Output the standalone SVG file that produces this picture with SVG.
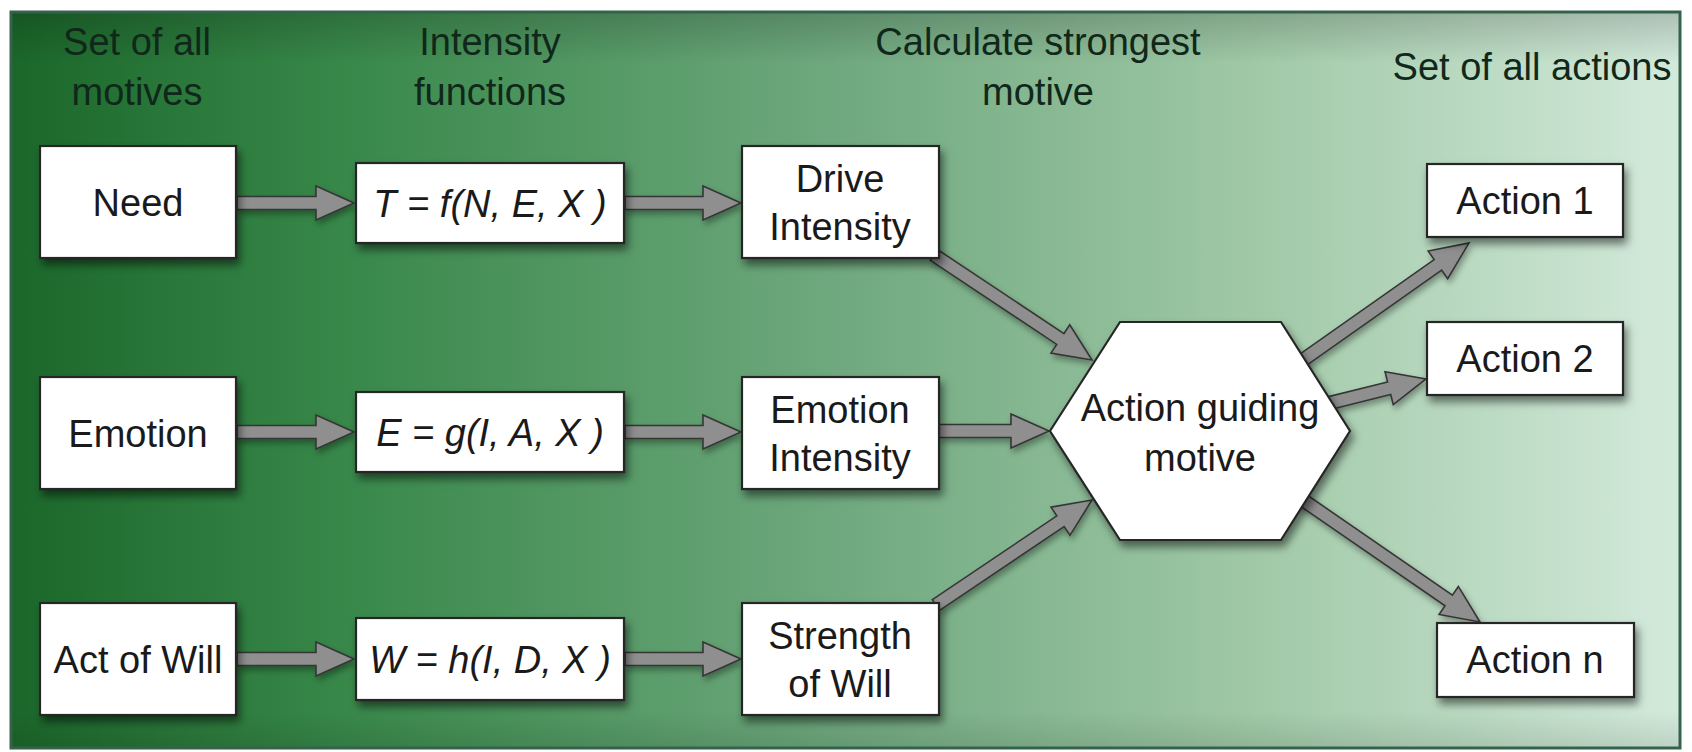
<svg xmlns="http://www.w3.org/2000/svg" width="1692" height="752" viewBox="0 0 1692 752">
<style>
.box{fill:#ffffff;stroke:#262626;stroke-width:2.2;filter:url(#sh)}
.lbl{font-family:"Liberation Sans",Arial,sans-serif;font-size:38px;fill:#1a1a1a;text-anchor:middle}
.fn{font-style:italic}
.hdr{font-family:"Liberation Sans",Arial,sans-serif;font-size:38px;fill:#10281a;text-anchor:middle}
.arr{fill:#8f8f8f;stroke:#363636;stroke-width:1.6;stroke-linejoin:miter;filter:url(#sha)}
</style>
<defs>
<linearGradient id="bg" x1="0" y1="0" x2="1" y2="0">
<stop offset="0" stop-color="#1b672a"/>
<stop offset="0.2" stop-color="#38884a"/>
<stop offset="0.5" stop-color="#70a97f"/>
<stop offset="0.75" stop-color="#a1c9a8"/>
<stop offset="1" stop-color="#d3eadb"/>
</linearGradient>
<linearGradient id="vig" x1="0" y1="0" x2="0" y2="1">
<stop offset="0" stop-color="#000" stop-opacity="0.18"/>
<stop offset="0.07" stop-color="#000" stop-opacity="0"/>
<stop offset="0.95" stop-color="#000" stop-opacity="0"/>
<stop offset="1" stop-color="#000" stop-opacity="0.1"/>
</linearGradient>
<filter id="sh" x="-20%" y="-20%" width="140%" height="150%">
<feDropShadow dx="3" dy="6" stdDeviation="4" flood-color="#000" flood-opacity="0.5"/>
</filter>
<filter id="sha" x="-20%" y="-30%" width="140%" height="160%">
<feDropShadow dx="2" dy="4" stdDeviation="3" flood-color="#000" flood-opacity="0.35"/>
</filter>
</defs>
<rect x="0" y="0" width="1692" height="752" fill="#ffffff"/>
<g id="frame">
<rect x="11" y="12" width="1669" height="736" fill="url(#bg)"/>
<rect x="11" y="12" width="1669" height="736" fill="url(#vig)"/>
<rect x="11" y="12" width="1669" height="736" fill="none" stroke="#35624a" stroke-width="3"/>
</g>
<g id="headers">
<text class="hdr" x="137" y="55">Set of all</text>
<text class="hdr" x="137" y="105">motives</text>
<text class="hdr" x="490" y="55">Intensity</text>
<text class="hdr" x="490" y="105">functions</text>
<text class="hdr" x="1038" y="55">Calculate strongest</text>
<text class="hdr" x="1038" y="105">motive</text>
<text class="hdr" x="1532" y="80">Set of all actions</text>
</g>
<g id="connectors">
<polygon class="arr" points="237,196.5 316,196.5 316,186 354,203 316,220 316,209.5 237,209.5"/>
<polygon class="arr" points="625,196.5 703,196.5 703,186 741,203 703,220 703,209.5 625,209.5"/>
<polygon class="arr" points="237,425.5 316,425.5 316,415 354,432 316,449 316,438.5 237,438.5"/>
<polygon class="arr" points="625,425.5 703,425.5 703,415 741,432 703,449 703,438.5 625,438.5"/>
<polygon class="arr" points="237,652.5 316,652.5 316,642 354,659 316,676 316,665.5 237,665.5"/>
<polygon class="arr" points="625,652.5 703,652.5 703,642 741,659 703,676 703,665.5 625,665.5"/>
<polygon class="arr" points="939,424.5 1011,424.5 1011,414 1049,431 1011,448 1011,437.5 939,437.5"/>
<polygon class="arr" points="930.4,260.4 1056.75,344.38 1050.94,353.13 1092,360 1069.76,324.81 1063.95,333.56 937.6,249.6"/>
<polygon class="arr" points="939.63,610.39 1064.11,526.61 1069.97,535.32 1092,500 1050.99,507.12 1056.85,515.83 932.37,599.61"/>
<polygon class="arr" points="1303.74,367.31 1441.67,270.19 1447.72,278.78 1469,243 1428.14,250.98 1434.19,259.57 1296.26,356.69"/>
<polygon class="arr" points="1331.58,409.31 1390.71,394.53 1393.25,404.71 1426,379 1385.01,371.73 1387.55,381.91 1328.42,396.69"/>
<polygon class="arr" points="1296.31,503.35 1445.02,605.79 1439.07,614.44 1480,622 1458.35,586.44 1452.4,595.09 1303.69,492.65"/>
</g>
<g id="need"><rect class="box" x="40" y="146" width="196" height="112"/><text class="lbl" x="138" y="216">Need</text></g>
<g id="emotion"><rect class="box" x="40" y="377" width="196" height="112"/><text class="lbl" x="138" y="447">Emotion</text></g>
<g id="actofwill"><rect class="box" x="40" y="603" width="196" height="112"/><text class="lbl" x="138" y="673">Act of Will</text></g>
<g id="fn-t"><rect class="box" x="356" y="163" width="268" height="80"/><text class="lbl fn" x="490" y="217">T = f(N, E, X )</text></g>
<g id="fn-e"><rect class="box" x="356" y="392" width="268" height="80"/><text class="lbl fn" x="490" y="446">E = g(I, A, X )</text></g>
<g id="fn-w"><rect class="box" x="356" y="618" width="268" height="82"/><text class="lbl fn" x="490" y="673">W = h(I, D, X )</text></g>
<g id="drive"><rect class="box" x="742" y="146" width="197" height="112"/><text class="lbl" x="840" y="192">Drive</text><text class="lbl" x="840" y="240">Intensity</text></g>
<g id="emoint"><rect class="box" x="742" y="377" width="197" height="112"/><text class="lbl" x="840" y="423">Emotion</text><text class="lbl" x="840" y="471">Intensity</text></g>
<g id="will"><rect class="box" x="742" y="603" width="197" height="112"/><text class="lbl" x="840" y="649">Strength</text><text class="lbl" x="840" y="697">of Will</text></g>
<g id="motive"><polygon class="box" points="1050,431 1120,322 1281,322 1350,431 1281,540 1120,540"/><text class="lbl" x="1200" y="421">Action guiding</text><text class="lbl" x="1200" y="471">motive</text></g>
<g id="action1"><rect class="box" x="1427" y="164" width="196" height="73"/><text class="lbl" x="1525" y="214">Action 1</text></g>
<g id="action2"><rect class="box" x="1427" y="322" width="196" height="73"/><text class="lbl" x="1525" y="372">Action 2</text></g>
<g id="actionn"><rect class="box" x="1437" y="623" width="197" height="74"/><text class="lbl" x="1535" y="673">Action n</text></g>
</svg>
